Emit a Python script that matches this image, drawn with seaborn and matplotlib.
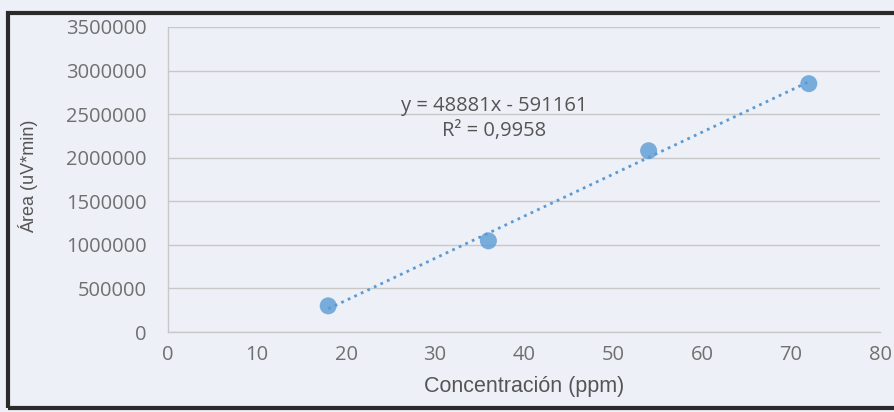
import matplotlib
matplotlib.use("Agg")
import matplotlib.pyplot as plt
import seaborn as sns
import pandas as pd
from matplotlib.patches import Rectangle

conc = [18, 36, 54, 72]
area = [300000, 1046000, 2080000, 2850000]
x_ticks = [0, 10, 20, 30, 40, 50, 60, 70, 80]
y_ticks = [0, 500000, 1000000, 1500000, 2000000, 2500000, 3000000, 3500000]
eq_text = "y = 48881x - 591161"
r2_text = "R² = 0,9958"

df = pd.DataFrame({"Concentración (ppm)": conc, "Área (uV*min)": area})

sns.set_style("white")
bg = "#eef0f7"
fig = plt.figure(figsize=(8.94, 4.12), dpi=100, facecolor=bg)
ax = fig.add_axes([168/894, 80/412, 712/894, 305/412])
ax.set_facecolor(bg)

blue = "#5b9bd5"
sns.regplot(data=df, x="Concentración (ppm)", y="Área (uV*min)", ax=ax, ci=None,
            truncate=True,
            scatter_kws=dict(s=150, color=blue, edgecolor="none", zorder=3),
            line_kws=dict(color=blue, linestyle=(0, (1, 1.6)), linewidth=2, zorder=2))

ax.set_xlim(0, 80)
ax.set_ylim(0, 3500000)
ax.set_xticks(x_ticks)
ax.set_yticks(y_ticks)
ax.set_xticklabels([str(v) for v in x_ticks], fontsize=14.5, color="#707070", family="Open Sans")
ax.set_yticklabels([str(v) for v in y_ticks], fontsize=14.5, color="#707070", family="Open Sans")
ax.tick_params(axis="x", length=0, pad=9)
ax.tick_params(axis="y", length=0, pad=15.5)
ax.yaxis.grid(True, color="#c8c8c8", linewidth=1)
ax.xaxis.grid(False)
for s in ["top", "right"]:
    ax.spines[s].set_visible(False)
for s in ["left", "bottom"]:
    ax.spines[s].set_color("#c8c8c8")
    ax.spines[s].set_linewidth(1)

ax.set_xlabel("Concentración (ppm)", fontsize=15.5, color="#555555", family="Liberation Sans", labelpad=8)
ax.set_ylabel("Área (uV*min)", fontsize=13, color="#555555", family="Liberation Sans")
ax.yaxis.set_label_coords(-0.182, 0.51)

ax.text(0.458, 0.70, eq_text + "\n" + r2_text, transform=ax.transAxes, ha="center", va="center",
        fontsize=14.5, color="#555555", family="Open Sans", linespacing=1.3)

fig.add_artist(Rectangle((8/894, 4/412), 1.1, 395/412, transform=fig.transFigure,
                         fill=False, edgecolor="#2a2a2a", linewidth=3))

fig.savefig("out.png", dpi=100, facecolor=bg)
